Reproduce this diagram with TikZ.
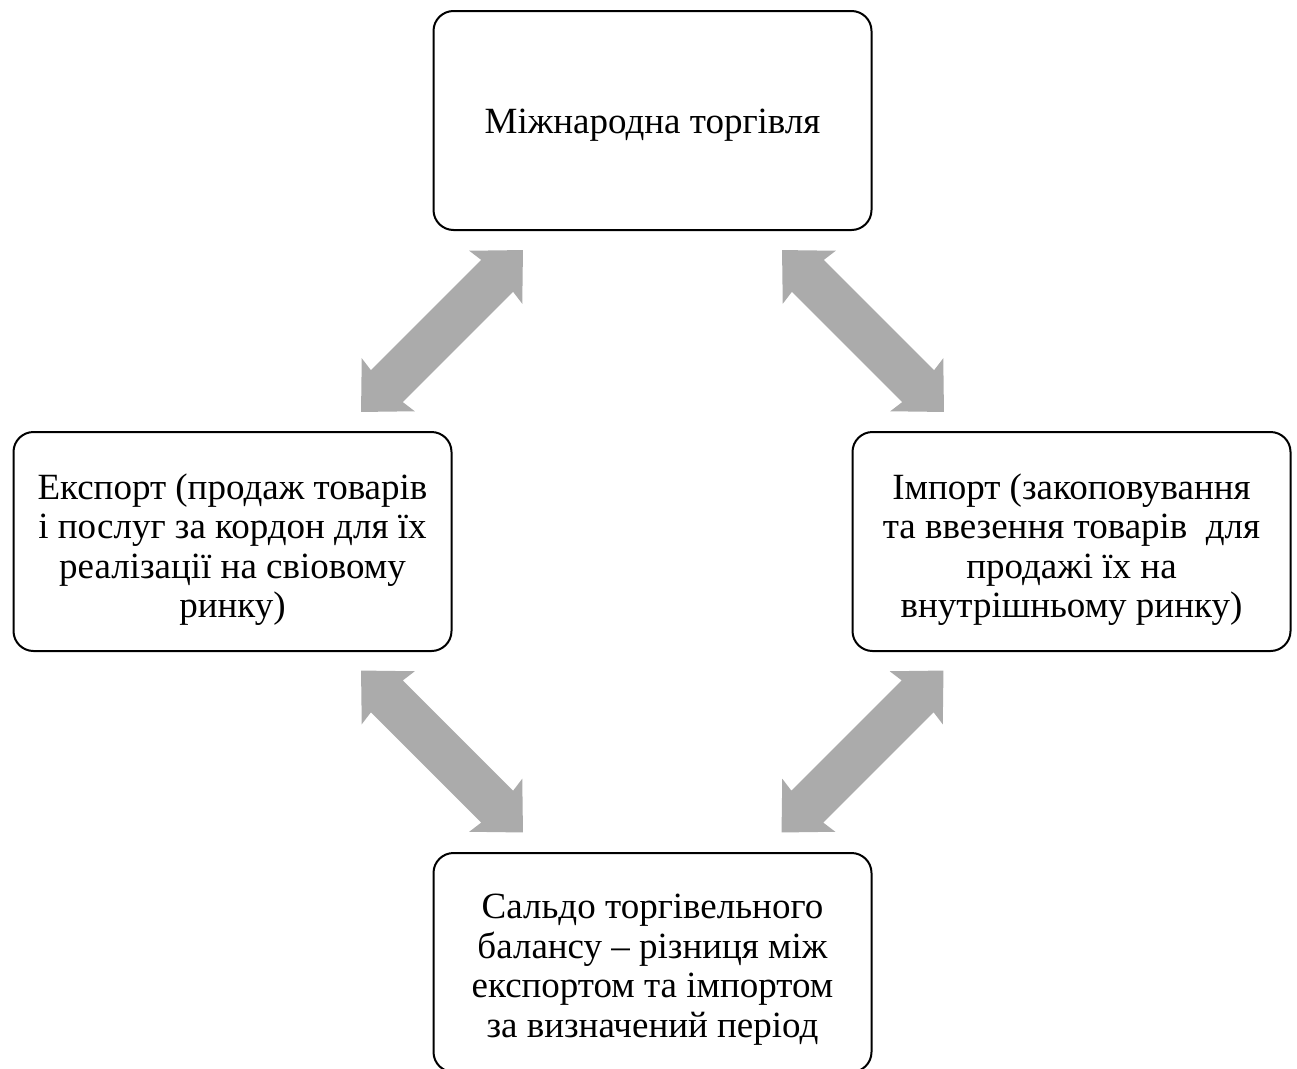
\documentclass[tikz,border=0pt]{standalone}
\usepackage{fontspec}
\setmainfont{Liberation Serif}
\definecolor{arrowgray}{HTML}{ABABAB}
\tikzset{
  box/.style={draw=black, line width=2pt, rounded corners=20pt, fill=white,
    minimum width=438pt, minimum height=219pt, inner sep=0pt},
  boxtext/.style={inner sep=0pt, align=center, font=\fontsize{37}{39.5}\selectfont},
  dblarrow/.pic={
    \fill[arrowgray] (114.5,0) -- (76,37.5) -- (78,22.5) -- (-78,22.5) -- (-76,37.5)
      -- (-114.5,0) -- (-76,-37.5) -- (-78,-22.5) -- (78,-22.5) -- (76,-37.5) -- cycle;
  }
}
\begin{document}
\begin{tikzpicture}[x=1pt,y=-1pt]
\useasboundingbox (0,0) rectangle (1297,1068);
\clip (0,0) rectangle (1297,1068);
\node[box] (trade) at (652.5,120.5) {};
\node[box] (export) at (232.5,541.5) {};
\node[box] (import) at (1071.5,541.5) {};
\node[box] (saldo) at (652.5,962.5) {};
\node[boxtext] (tradeT) at ([yshift=-5pt]trade.center) {Міжнародна торгівля};
\node[boxtext] (exportT) at ([yshift=-8pt]export.center) {Експорт (продаж товарів\\і послуг за кордон для їх\\реалізації на свіовому\\ринку)};
\node[boxtext] (importT) at ([yshift=-8pt]import.center) {Імпорт (закоповування\\та ввезення товарів~ для\\продажі їх на\\внутрішньому ринку)};
\node[boxtext] (saldoT) at ([yshift=-7pt]saldo.center) {Сальдо торгівельного\\балансу – різниця між\\експортом та імпортом\\за визначений період};
\pic[rotate=45] at (442,331) {dblarrow};
\pic[rotate=-45] at (863,331) {dblarrow};
\pic[rotate=-45] at (442,751.5) {dblarrow};
\pic[rotate=45] at (862.5,751.5) {dblarrow};
\end{tikzpicture}
\end{document}
